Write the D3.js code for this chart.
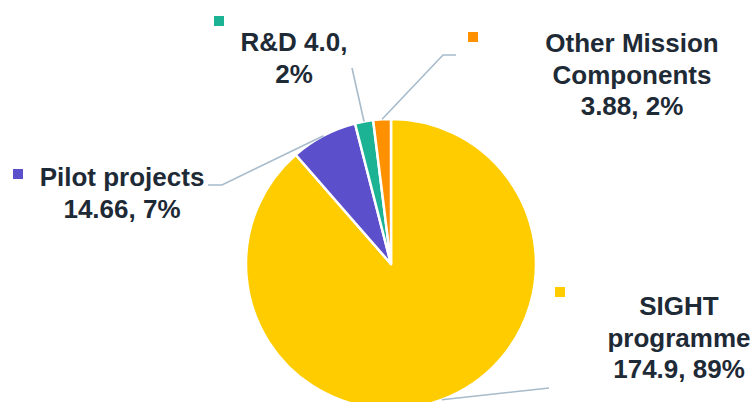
<!DOCTYPE html>
<html><head><meta charset="utf-8">
<script src="https://cdn.jsdelivr.net/npm/d3@7"></script>
<style>html,body{margin:0;padding:0;background:#fff;overflow:hidden}</style>
</head><body>
<svg id="chart" width="755" height="402"></svg>
<script>
// ---- data ----
const categories = ["SIGHT programme", "Pilot projects", "R&D 4.0", "Other Mission Components"];
const values = [174.9, 14.66, 4.0, 3.88];
const valueLabels = ["174.9", "14.66", "4.0", "3.88"];
const colors = ["#FFCC00", "#5B4FCB", "#1BB394", "#FF9100"];
// label line breaks (text only)
const labelLines = [
  ["SIGHT", "programme", "{v}, {p}"],
  ["Pilot projects", "{v}, {p}"],
  ["R&D {v},", "{p}"],
  ["Other Mission", "Components", "{v}, {p}"]
];

// ---- layout ----
const W = 755, H = 402;
const cx = 391, cy = 264, R = 145;
const fontSize = 26, lineH = 31.5;
// label anchors: text center x, first baseline y, marker (x,y), leader path elbows
const labelLayout = [
  {tx: 679, ty: 315, mx: 555, my: 287, elbows: [[549, 388]]},
  {tx: 122, ty: 186, mx: 13, my: 169, elbows: [[222, 185], [208, 185]]},
  {tx: 294, ty: 51, mx: 214, my: 16, elbows: [[352, 68]]},
  {tx: 632, ty: 52, mx: 468, my: 32, elbows: [[443, 55], [456, 55]]}
];

const svg = d3.select("#chart");
const total = d3.sum(values);
const data = categories.map((c, i) => ({name: c, value: values[i], label: valueLabels[i], color: colors[i], i}));

const pie = d3.pie().value(d => d.value).sort(null).startAngle(0).endAngle(2 * Math.PI);
const arcs = pie(data);
const arc = d3.arc().innerRadius(0).outerRadius(R);

const g = svg.append("g").attr("transform", `translate(${cx},${cy})`);
g.selectAll("path.slice").data(arcs).enter().append("path")
  .attr("class", "slice")
  .attr("d", arc)
  .attr("fill", d => d.data.color)
  .attr("stroke", "#fff")
  .attr("stroke-width", 2.5)
  .attr("stroke-linejoin", "round");

// leader lines
const lineGen = d3.line();
arcs.forEach((a, i) => {
  const mid = (a.startAngle + a.endAngle) / 2;
  const p0 = [cx + R * Math.sin(mid), cy - R * Math.cos(mid)];
  const pts = [p0].concat(labelLayout[i].elbows);
  svg.append("path").attr("d", lineGen(pts))
    .attr("fill", "none").attr("stroke", "#A7BBCB").attr("stroke-width", 1.6);
});

// labels
arcs.forEach((a, i) => {
  const L = labelLayout[i];
  const pct = Math.round(a.data.value / total * 100) + "%";
  svg.append("rect").attr("x", L.mx).attr("y", L.my).attr("width", 10).attr("height", 10)
    .attr("fill", a.data.color);
  const t = svg.append("text")
    .attr("font-family", "'Liberation Sans', Arial, sans-serif")
    .attr("font-weight", "bold")
    .attr("font-size", fontSize)
    .attr("fill", "#1E2A36")
    .attr("text-anchor", "middle");
  labelLines[i].forEach((ln, k) => {
    t.append("tspan").attr("x", L.tx).attr("y", L.ty + k * lineH)
      .text(ln.replace("{v}", a.data.label).replace("{p}", pct));
  });
});
</script>
</body></html>
